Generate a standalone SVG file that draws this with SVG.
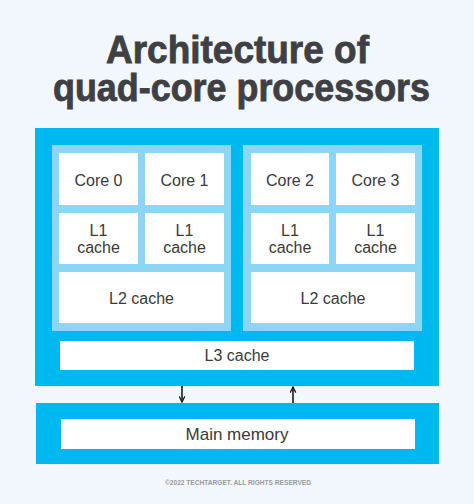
<svg xmlns="http://www.w3.org/2000/svg" width="474" height="504" viewBox="0 0 474 504">
<defs>
<style>
.title{font-family:"Liberation Sans",Arial,sans-serif;font-weight:bold;font-size:38px;fill:#3f4043;text-anchor:middle;stroke:#3f4043;stroke-width:0.8}
.lbl{font-family:"Liberation Sans",Arial,sans-serif;font-size:16px;fill:#3a3a3a;text-anchor:middle}
.big{font-size:17px}
.outer{fill:#00b8f0}
.group{fill:#8dd5f5}
.cell{fill:#ffffff}
.conn{stroke:#1a1a1a;stroke-width:1.6;fill:none}
.copy{font-family:"Liberation Sans",Arial,sans-serif;font-weight:bold;font-size:6.6px;fill:#9a9a9a;text-anchor:middle}
</style>
<marker id="ah" viewBox="0 0 10 10" refX="9" refY="5" markerWidth="7" markerHeight="7" orient="auto" markerUnits="userSpaceOnUse">
<path d="M1,1 L9,5 L1,9" fill="none" stroke="#1a1a1a" stroke-width="1.8"/>
</marker>
</defs>
<rect width="474" height="504" fill="#f1f7fc"/>
<text class="title" x="237.5" y="62.5" textLength="263" lengthAdjust="spacingAndGlyphs">Architecture of</text>
<text class="title" x="241.5" y="100.5" textLength="377" lengthAdjust="spacingAndGlyphs">quad-core processors</text>

<g id="processor">
<rect class="outer" x="35" y="128" width="404" height="258"/>
</g>
<g id="group-left">
<rect class="group" x="52" y="145" width="179" height="186"/>
</g>
<g id="group-right">
<rect class="group" x="243" y="145" width="179" height="186"/>
</g>
<g id="core0"><rect class="cell" x="59" y="153" width="79" height="52"/><text class="lbl" x="98.5" y="185.5">Core 0</text></g>
<g id="core1"><rect class="cell" x="145" y="153" width="79" height="52"/><text class="lbl" x="184.5" y="185.5">Core 1</text></g>
<g id="core2"><rect class="cell" x="251" y="153" width="78" height="52"/><text class="lbl" x="290" y="185.5">Core 2</text></g>
<g id="core3"><rect class="cell" x="336" y="153" width="79" height="52"/><text class="lbl" x="375.5" y="185.5">Core 3</text></g>
<g id="l1-0"><rect class="cell" x="59" y="213" width="79" height="51"/><text class="lbl" x="98.5" y="236">L1</text><text class="lbl" x="98.5" y="253">cache</text></g>
<g id="l1-1"><rect class="cell" x="145" y="213" width="79" height="51"/><text class="lbl" x="184.5" y="236">L1</text><text class="lbl" x="184.5" y="253">cache</text></g>
<g id="l1-2"><rect class="cell" x="251" y="213" width="78" height="51"/><text class="lbl" x="290" y="236">L1</text><text class="lbl" x="290" y="253">cache</text></g>
<g id="l1-3"><rect class="cell" x="336" y="213" width="79" height="51"/><text class="lbl" x="375.5" y="236">L1</text><text class="lbl" x="375.5" y="253">cache</text></g>
<g id="l2-left"><rect class="cell" x="59" y="272" width="165" height="51"/><text class="lbl" x="141.5" y="303.5">L2 cache</text></g>
<g id="l2-right"><rect class="cell" x="251" y="272" width="164" height="51"/><text class="lbl" x="333" y="303.5">L2 cache</text></g>
<g id="l3"><rect class="cell" x="60" y="341" width="354" height="29"/><text class="lbl" x="237" y="361">L3 cache</text></g>
<g id="memory">
<rect class="outer" x="36" y="403" width="403" height="61"/>
<rect class="cell" x="61" y="419" width="354" height="30"/>
<text class="lbl big" x="237" y="440">Main memory</text>
</g>
<g id="connectors">
<line class="conn" x1="182" y1="386" x2="182" y2="402" marker-end="url(#ah)"/>
<line class="conn" x1="293" y1="403" x2="293" y2="387" marker-end="url(#ah)"/>
</g>
<text class="copy" x="238" y="484.5">©2022 TECHTARGET. ALL RIGHTS RESERVED</text>
</svg>
